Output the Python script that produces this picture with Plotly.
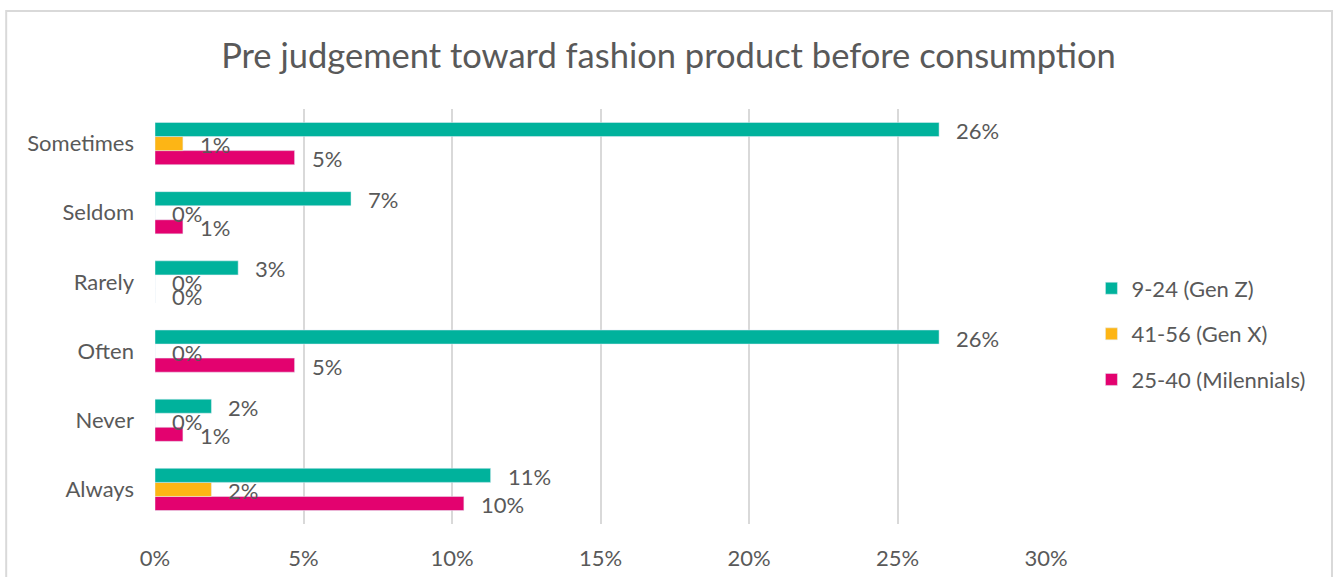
import plotly.graph_objects as go

# Survey answers, bottom to top on the category axis
categories = ["Always", "Never", "Often", "Rarely", "Seldom", "Sometimes"]

# Share of all respondents per answer and age group
gen_z = [0.113, 0.019, 0.264, 0.028, 0.066, 0.264]
gen_x = [0.019, 0.0, 0.0, 0.0, 0.0, 0.0094]
millennials = [0.104, 0.0094, 0.047, 0.0, 0.0094, 0.047]

series_names = ["9-24 (Gen Z)", "41-56 (Gen X)", "25-40 (Milennials)"]
series_values = [gen_z, gen_x, millennials]
series_colors = ["#00B29C", "#FDB515", "#E3026F"]

x_ticks = [0, 0.05, 0.10, 0.15, 0.20, 0.25, 0.30]
x_tick_labels = ["0%", "5%", "10%", "15%", "20%", "25%", "30%"]

FONT = "Lato"
TEXT_COLOR = "#595959"
TEXT_SIZE = 22

fig = go.Figure()

# Plotly stacks grouped horizontal bars bottom-up, so add in reverse
for rank, (name, vals, color) in reversed(list(enumerate(zip(series_names, series_values, series_colors)))):
    fig.add_trace(go.Bar(
        y=categories, x=vals, name=name, orientation="h",
        marker=dict(color=color), legendgroup=name, legendrank=rank + 1,
        hoverinfo="x+name",
    ))

# Value labels just beyond each bar end
label_yshift = {series_names[0]: 13, series_names[1]: -1, series_names[2]: -15}
for name, vals in zip(series_names, series_values):
    for cat, v in zip(categories, vals):
        fig.add_annotation(
            x=v, y=cat, text=f"{v:.0%}", showarrow=False,
            xanchor="left", yanchor="middle", xshift=15,
            yshift=label_yshift[name],
            font=dict(family=FONT, size=TEXT_SIZE, color=TEXT_COLOR),
        )

# Light frame around the chart area (plot area spans x 155..1046, y 109..524)
fig.add_shape(
    type="rect", xref="paper", yref="paper",
    x0=-0.167, x1=1.321, y0=-0.2, y1=1.236,
    line=dict(color="#D9D9D9", width=2), fillcolor="rgba(0,0,0,0)",
    layer="below",
)

fig.update_layout(
    width=1337, height=577,
    margin=dict(l=155, r=291, t=109, b=53),
    paper_bgcolor="white", plot_bgcolor="white",
    barmode="group", bargap=0.39, bargroupgap=0,
    title=dict(
        text="Pre judgement toward fashion product before consumption",
        x=0.5, xanchor="center", y=0.903, yanchor="middle",
        font=dict(family=FONT, size=34.5, color=TEXT_COLOR),
    ),
    font=dict(family=FONT, color=TEXT_COLOR),
    legend=dict(
        x=1.051, xanchor="left", y=0.458, yanchor="middle",
        traceorder="grouped", tracegroupgap=14,
        font=dict(family=FONT, size=TEXT_SIZE, color=TEXT_COLOR),
        itemwidth=30,
    ),
    showlegend=True,
)

fig.update_xaxes(
    range=[0, 0.30], tickvals=x_ticks, ticktext=x_tick_labels,
    showgrid=True, gridcolor="#D9D9D9", gridwidth=2,
    zeroline=False, showline=False, automargin=False,
    tickfont=dict(family=FONT, size=TEXT_SIZE, color=TEXT_COLOR),
    ticklabelstandoff=19,
)
fig.update_yaxes(
    categoryorder="array", categoryarray=categories,
    showgrid=False, zeroline=False, showline=False, automargin=False,
    tickfont=dict(family=FONT, size=TEXT_SIZE, color=TEXT_COLOR),
    ticklabelstandoff=20,
)

fig.write_html("out.html")
